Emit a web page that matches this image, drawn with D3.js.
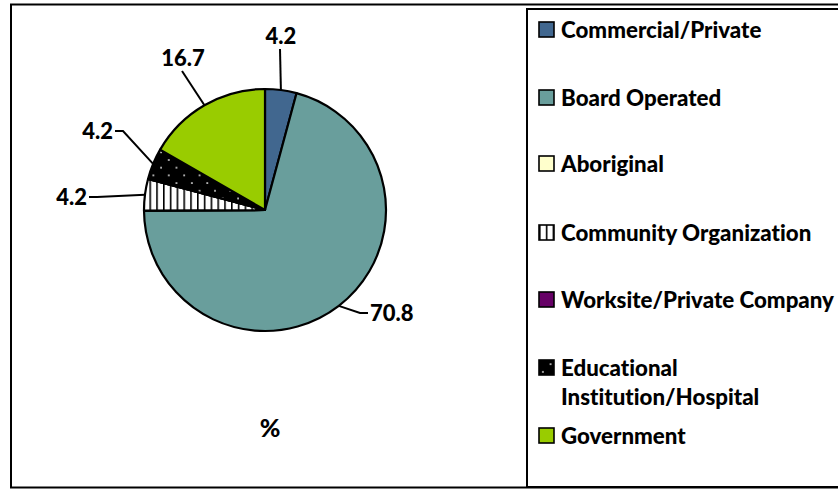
<!DOCTYPE html>
<html>
<head>
<meta charset="utf-8">
<script src="https://cdn.jsdelivr.net/npm/d3@7"></script>
<style>
  body { margin: 0; background: #fff; }
  svg text { font-family: Lato, "Open Sans", sans-serif; font-weight: 900; fill: #000;
             font-variant-ligatures: none; font-feature-settings: "liga" 0, "clig" 0; }
</style>
</head>
<body>
<svg id="chart" width="838" height="489"></svg>
<script>
// slice order follows the legend, clockwise from 12 o'clock
const categories = ['Commercial/Private', 'Board Operated', 'Aboriginal',
    'Community Organization', 'Worksite/Private Company',
    'Educational Institution/Hospital', 'Government'];
const percents = [4.2, 70.8, 0, 4.2, 0, 4.2, 16.7];
const fills = ['#41678f', '#699e9c', '#ffffcc', 'url(#stripes)', '#660066', 'url(#dots)', '#99cc00'];
const legendLines = [['Commercial/Private'], ['Board Operated'], ['Aboriginal'],
    ['Community Organization'], ['Worksite/Private Company'],
    ['Educational', 'Institution/Hospital'], ['Government']];

// label placement relative to the pie centre (layout, not data)
const labelAt = [
    {dx: 16, dy: -174, anchor: 'middle'},
    {dx: 105, dy: 103, anchor: 'start'},
    null,
    {dx: -178, dy: -13, anchor: 'end'},
    null,
    {dx: -152, dy: -79, anchor: 'end'},
    {dx: -82, dy: -152, anchor: 'middle'}
];

let svg = d3.select('#chart');
let defs = svg.append('defs');

// vertical stripes
let stripes = defs.append('pattern')
    .attr('id', 'stripes')
    .attr('patternUnits', 'userSpaceOnUse')
    .attr('width', 6.8).attr('height', 10);
stripes.append('rect').attr('width', 6.8).attr('height', 10).attr('fill', '#fff');
stripes.append('rect').attr('x', 0).attr('width', 1.6).attr('height', 10).attr('fill', '#000');

// black with small light dots
let dots = defs.append('pattern')
    .attr('id', 'dots')
    .attr('patternUnits', 'userSpaceOnUse')
    .attr('width', 15.4).attr('height', 15.4);
dots.append('rect').attr('width', 15.4).attr('height', 15.4).attr('fill', '#000');
dots.append('rect').attr('x', 3).attr('y', 3).attr('width', 1.8).attr('height', 1.8).attr('fill', '#bbb');
dots.append('rect').attr('x', 10.7).attr('y', 10.7).attr('width', 1.8).attr('height', 1.8).attr('fill', '#bbb');

// frames
svg.append('rect')
    .attr('x', 11).attr('y', 4.5).attr('width', 840).attr('height', 483)
    .attr('fill', 'none').attr('stroke', '#000').attr('stroke-width', 2);
svg.append('rect')
    .attr('x', 527).attr('y', 9).attr('width', 320).attr('height', 478)
    .attr('fill', '#fff').attr('stroke', '#000').attr('stroke-width', 2);

// pie
let cx = 265, cy = 210, r = 121;
let pie = d3.pie().sort(null).value(d => d);
let arc = d3.arc().innerRadius(0).outerRadius(r);
let arcs = pie(percents);

let g = svg.append('g').attr('transform', 'translate(' + cx + ',' + cy + ')');

g.selectAll('.slice')
    .data(arcs)
    .enter()
    .append('path')
        .attr('class', 'slice')
        .attr('d', arc)
        .attr('fill', (d, i) => fills[i])
        .attr('stroke', '#000')
        .attr('stroke-width', 2.2)
        .attr('stroke-linejoin', 'round');

// data labels + leader lines
let labelled = arcs.map((d, i) => ({d, i, at: labelAt[i]})).filter(o => o.at && o.d.value > 0);

labelled.forEach(function(o) {
    let mid = (o.d.startAngle + o.d.endAngle) / 2;
    let ex = Math.sin(mid) * r, ey = -Math.cos(mid) * r;
    let pts;
    if (o.at.anchor === 'middle') {
        pts = [[ex, ey], [o.at.dx - 1, o.at.dy + 13]];
    } else if (o.at.anchor === 'start') {
        pts = [[ex, ey], [o.at.dx - 10, o.at.dy], [o.at.dx - 2, o.at.dy]];
    } else {
        pts = [[ex, ey], [o.at.dx + 10, o.at.dy], [o.at.dx + 2, o.at.dy]];
    }
    g.append('path')
        .attr('d', d3.line()(pts))
        .attr('fill', 'none')
        .attr('stroke', '#000')
        .attr('stroke-width', 2);
    g.append('text')
        .attr('x', o.at.dx)
        .attr('y', o.at.dy)
        .attr('dy', '0.36em')
        .attr('text-anchor', o.at.anchor)
        .style('font-size', '22px')
        .text(d3.format('.1f')(o.d.value));
});

// title under the pie
svg.append('text')
    .attr('x', 270).attr('y', 428)
    .attr('dy', '0.36em')
    .attr('text-anchor', 'middle')
    .style('font-size', '25px')
    .text('%');

// legend
let legendY = [30, 98, 164, 233, 300, 368, 436];
let items = svg.selectAll('.legend')
    .data(categories)
    .enter()
    .append('g')
        .attr('class', 'legend')
        .attr('transform', (d, i) => 'translate(539,' + legendY[i] + ')');

items.append('rect')
    .attr('x', 0).attr('y', -8)
    .attr('width', 15).attr('height', 15)
    .attr('fill', (d, i) => fills[i])
    .attr('stroke', '#000')
    .attr('stroke-width', 1.6);

items.append('text')
    .attr('x', 22)
    .style('font-size', '22.3px')
    .each(function(d, i) {
        d3.select(this).selectAll('tspan')
            .data(legendLines[i])
            .enter()
            .append('tspan')
                .attr('x', 22)
                .attr('y', (t, k) => k * 29)
                .attr('dy', '0.36em')
                .text(t => t);
    });
</script>
</body>
</html>
